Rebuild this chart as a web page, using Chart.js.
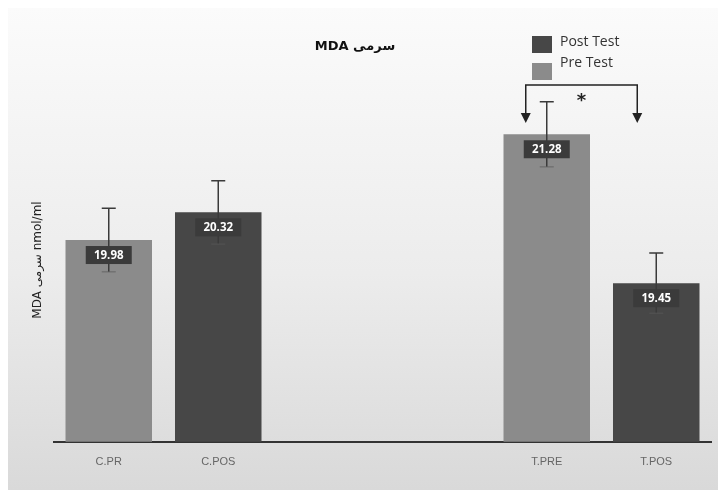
<!DOCTYPE html>
<html>
<head>
<meta charset="utf-8">
<script src="https://cdn.jsdelivr.net/npm/chart.js@4.4.0/dist/chart.umd.min.js"></script>
<style>
  body { margin: 0; background: #fff; }
  #wrap { position: absolute; left: 8px; top: 8px; width: 710px; height: 482px;
          background: linear-gradient(to bottom, #fbfbfb 0%, #ececec 55%, #d9d9d9 100%); }
  canvas { position: absolute; left: -8px; top: -8px; }
</style>
</head>
<body>
<div id="wrap"><canvas id="myChart" width="726" height="496"></canvas></div>
<script>
// categories (two empty slots between control and test groups)
let categories = ["C.PR", "C.POS", "", "", "T.PRE", "T.POS"];
let preValues = [19.98, null, null, null, 21.28, null];
let postValues = [null, 20.32, null, null, null, 19.45];
let preErrors = [0.39, null, null, null, 0.40, null];
let postErrors = [null, 0.39, null, null, null, 0.37];

let titleText = "MDA سرمی";
let yTitle = "MDA سرمی nmol/ml";

let lightGray = "#8b8b8b";
let darkGray = "#474747";

// error bars, value boxes, legend, title and significance bracket
let extras = {
  id: "extras",
  afterDatasetsDraw(chart) {
    let c = chart.ctx;
    let y = chart.scales.y;
    let errs = [preErrors, postErrors];
    c.save();
    // error bars first, value boxes on top of them
    chart.data.datasets.forEach((ds, di) => {
      let meta = chart.getDatasetMeta(di);
      ds.data.forEach((v, i) => {
        if (v == null) return;
        let x = meta.data[i].x;
        let e = errs[di][i];
        let top = y.getPixelForValue(v + e);
        let bot = y.getPixelForValue(v - e);
        c.strokeStyle = "#3a3a3a";
        c.lineWidth = 1.5;
        c.beginPath();
        c.moveTo(x, top); c.lineTo(x, bot);
        c.moveTo(x - 7, top); c.lineTo(x + 7, top);
        c.stroke();
        c.strokeStyle = "rgba(90,90,90,0.5)";
        c.beginPath();
        c.moveTo(x - 7, bot); c.lineTo(x + 7, bot);
        c.stroke();
      });
    });
    chart.data.datasets.forEach((ds, di) => {
      let meta = chart.getDatasetMeta(di);
      ds.data.forEach((v, i) => {
        if (v == null) return;
        let bar = meta.data[i];
        c.fillStyle = "#3b3b3b";
        c.fillRect(bar.x - 23, bar.y + 6, 46, 18);
        c.fillStyle = "#fff";
        c.font = "bold 11.5px 'Open Sans', sans-serif";
        c.textAlign = "center";
        c.textBaseline = "middle";
        c.fillText(v.toFixed(2), bar.x, bar.y + 15.5);
      });
    });

    // title
    c.fillStyle = "#111";
    c.font = "bold 13px 'DejaVu Sans', sans-serif";
    c.textAlign = "center";
    c.textBaseline = "middle";
    c.fillText(titleText, 355, 47);

    // y axis title
    c.save();
    c.translate(38, 260);
    c.rotate(-Math.PI / 2);
    c.fillStyle = "#222";
    c.font = "12px 'DejaVu Sans', sans-serif";
    c.fillText(yTitle, 0, 0);
    c.restore();

    // legend
    let legendItems = [chart.data.datasets[1], chart.data.datasets[0]];
    legendItems.forEach((ds, k) => {
      c.fillStyle = ds.backgroundColor;
      c.fillRect(532, 36 + k * 27, 20, 17);
      c.fillStyle = "#333";
      c.font = "14px 'Open Sans', sans-serif";
      c.textAlign = "left";
      c.fillText(ds.label, 560, 42 + k * 21);
    });

    // significance bracket between T.PRE and T.POS
    let bx1 = chart.getDatasetMeta(0).data[4].x - 21;
    let bx2 = chart.getDatasetMeta(1).data[5].x - 19;
    let by = 85, bend = 123;
    c.strokeStyle = "#222";
    c.lineWidth = 1.5;
    c.beginPath();
    c.moveTo(bx1, bend - 8); c.lineTo(bx1, by); c.lineTo(bx2, by); c.lineTo(bx2, bend - 8);
    c.stroke();
    c.fillStyle = "#222";
    [bx1, bx2].forEach(ax => {
      c.beginPath();
      c.moveTo(ax - 5, bend - 10); c.lineTo(ax + 5, bend - 10); c.lineTo(ax, bend);
      c.closePath();
      c.fill();
    });
    c.font = "bold 18px 'DejaVu Sans', sans-serif";
    c.textAlign = "center";
    c.fillText("*", (bx1 + bx2) / 2, 101);
    c.restore();
  }
};

let ctx = document.getElementById("myChart").getContext("2d");

let myChart = new Chart(ctx, {
  type: "bar",
  data: {
    labels: categories,
    datasets: [
      { label: "Pre Test", data: preValues, backgroundColor: lightGray, grouped: false,
        categoryPercentage: 1, barPercentage: 0.79 },
      { label: "Post Test", data: postValues, backgroundColor: darkGray, grouped: false,
        categoryPercentage: 1, barPercentage: 0.79 }
    ]
  },
  options: {
    responsive: false,
    animation: false,
    layout: { padding: { left: 54, right: 15, top: 35, bottom: 13 } },
    plugins: {
      legend: { display: false },
      title: { display: false },
      tooltip: { enabled: false }
    },
    scales: {
      x: {
        grid: { display: false, drawTicks: false },
        border: { display: true, color: "#333", width: 2 },
        ticks: { color: "#666", font: { size: 11, family: "'Liberation Sans', sans-serif" }, padding: 14 }
      },
      y: {
        display: false,
        min: 17.5,
        max: 22.5
      }
    }
  },
  plugins: [extras]
});
</script>
</body>
</html>
